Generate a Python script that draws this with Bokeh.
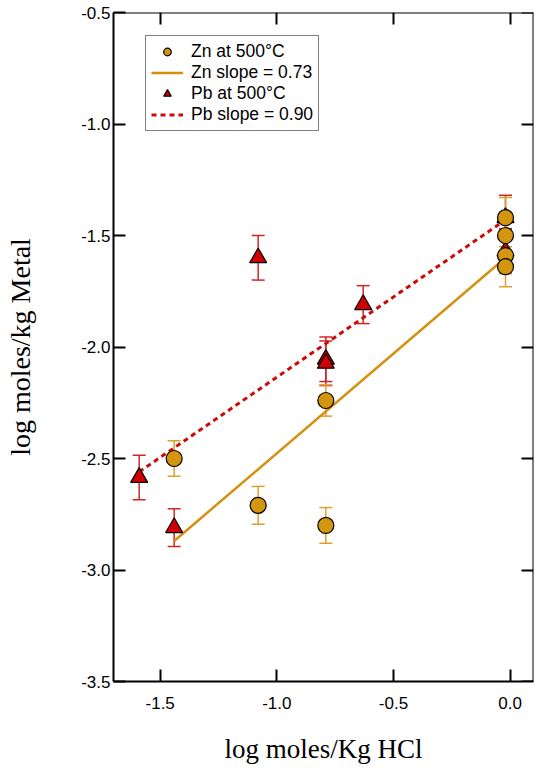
from bokeh.plotting import figure
from bokeh.models import (Range1d, LinearAxis, FixedTicker, PrintfTickFormatter,
                          Whisker, TeeHead, ColumnDataSource, Legend, LegendItem)
from bokeh.embed import file_html
from bokeh.resources import INLINE

# ---- data ----
zn_x = [-1.44, -1.08, -0.79, -0.79, -0.02, -0.02, -0.02, -0.02]
zn_y = [-2.50, -2.71, -2.80, -2.24, -1.42, -1.50, -1.59, -1.64]
zn_err = [0.08, 0.085, 0.08, 0.07, 0.09, 0.08, 0.08, 0.09]

pb_x = [-1.59, -1.44, -1.08, -0.79, -0.79, -0.63, -0.02, -0.02]
pb_y = [-2.585, -2.81, -1.60, -2.055, -2.073, -1.81, -1.42, -1.57]
pb_err = [0.10, 0.085, 0.10, 0.10, 0.10, 0.085, 0.10, 0.10]

zn_fit_x = [-1.44, -0.02]
zn_fit_y = [-2.87, -1.60]
pb_fit_x = [-1.59, -0.02]
pb_fit_y = [-2.56, -1.43]

x_ticks = [-1.5, -1.0, -0.5, 0.0]
y_ticks = [-3.5, -3.0, -2.5, -2.0, -1.5, -1.0, -0.5]
x_lim = (-1.7, 0.1)
y_lim = (-3.5, -0.5)

labels = ["Zn at 500°C", "Zn slope = 0.73", "Pb at 500°C", "Pb slope = 0.90"]
x_title = "log moles/Kg HCl"
y_title = "log moles/kg Metal"

ZN = "#D4950F"
ZN_LINE = "#D4900F"
ZN_ERR = "#DDA030"
PB = "#D00000"
PB_LINE = "#CC0A0A"
PB_ERR = "#CC2828"

p = figure(width=534, height=766, output_backend="svg", toolbar_location=None,
           x_range=Range1d(*x_lim), y_range=Range1d(*y_lim),
           min_border_left=113, min_border_right=1, min_border_top=12,
           min_border_bottom=85)
p.xgrid.visible = False
p.ygrid.visible = False
p.outline_line_color = None
p.background_fill_color = "white"
p.border_fill_color = "white"


def style_axis(ax, ticks, show_labels=True):
    ax.ticker = FixedTicker(ticks=ticks)
    ax.formatter = PrintfTickFormatter(format="%.1f")
    ax.axis_line_color = "black"
    ax.axis_line_width = 2
    ax.major_tick_line_color = "black"
    ax.major_tick_line_width = 2
    ax.major_tick_in = 12
    ax.major_tick_out = 0
    ax.minor_tick_line_color = None
    ax.major_label_text_font = "Liberation Sans"
    ax.major_label_text_color = "black"
    ax.major_label_text_font_size = "17px"
    if not show_labels:
        ax.major_label_text_color = None
        ax.major_label_standoff = 0


style_axis(p.xaxis[0], x_ticks)
style_axis(p.yaxis[0], y_ticks)
p.xaxis[0].major_label_standoff = 15
p.yaxis[0].major_label_standoff = 3

for ax, t in ((p.xaxis[0], x_title), (p.yaxis[0], y_title)):
    ax.axis_label = t
    ax.axis_label_text_font = "Liberation Serif"
    ax.axis_label_text_font_style = "normal"
    ax.axis_label_text_color = "black"
p.xaxis[0].axis_label_text_font_size = "27px"
p.yaxis[0].axis_label_text_font_size = "28px"
p.xaxis[0].axis_label_standoff = 22
p.yaxis[0].axis_label_standoff = 42

top_ax = LinearAxis(fixed_location=y_lim[1])
style_axis(top_ax, x_ticks, show_labels=False)
p.add_layout(top_ax, "above")
right_ax = LinearAxis(fixed_location=x_lim[1])
style_axis(right_ax, y_ticks, show_labels=False)
p.add_layout(right_ax, "right")

# error bars
zn_src = ColumnDataSource(dict(x=zn_x, y=zn_y,
                               upper=[a + e for a, e in zip(zn_y, zn_err)],
                               lower=[a - e for a, e in zip(zn_y, zn_err)]))
pb_src = ColumnDataSource(dict(x=pb_x, y=pb_y,
                               upper=[a + e for a, e in zip(pb_y, pb_err)],
                               lower=[a - e for a, e in zip(pb_y, pb_err)]))

for src, col in ((pb_src, PB_ERR), (zn_src, ZN_ERR)):
    w = Whisker(source=src, base="x", upper="upper", lower="lower",
                dimension="height", line_color=col, line_width=1.5,
                upper_head=TeeHead(size=13, line_color=col, line_width=1.5),
                lower_head=TeeHead(size=13, line_color=col, line_width=1.5))
    p.add_layout(w)

zn_line = p.line(zn_fit_x, zn_fit_y, line_color=ZN_LINE, line_width=2.5)
pb_line = p.line(pb_fit_x, pb_fit_y, line_color=PB_LINE, line_width=3,
                 line_dash="5 4")

pb_r = p.scatter("x", "y", source=pb_src, marker="triangle", size=17,
                 fill_color=PB, line_color="black", line_width=1.2)
zn_r = p.scatter("x", "y", source=zn_src, marker="circle", size=16,
                 fill_color=ZN, line_color="black", line_width=1.2)

legend = Legend(items=[LegendItem(label=labels[0], renderers=[zn_r]),
                       LegendItem(label=labels[1], renderers=[zn_line]),
                       LegendItem(label=labels[2], renderers=[pb_r]),
                       LegendItem(label=labels[3], renderers=[pb_line])],
                location=(32, 550), padding=5, spacing=0,
                glyph_width=32, glyph_height=19, label_height=19,
                label_standoff=8, label_text_font="Liberation Sans",
                label_text_font_size="17.5px", label_text_color="black",
                border_line_color="black", border_line_width=1.5,
                background_fill_color="white", background_fill_alpha=1.0)
p.add_layout(legend, "center")

open("out.html", "w").write(file_html(p, INLINE))
